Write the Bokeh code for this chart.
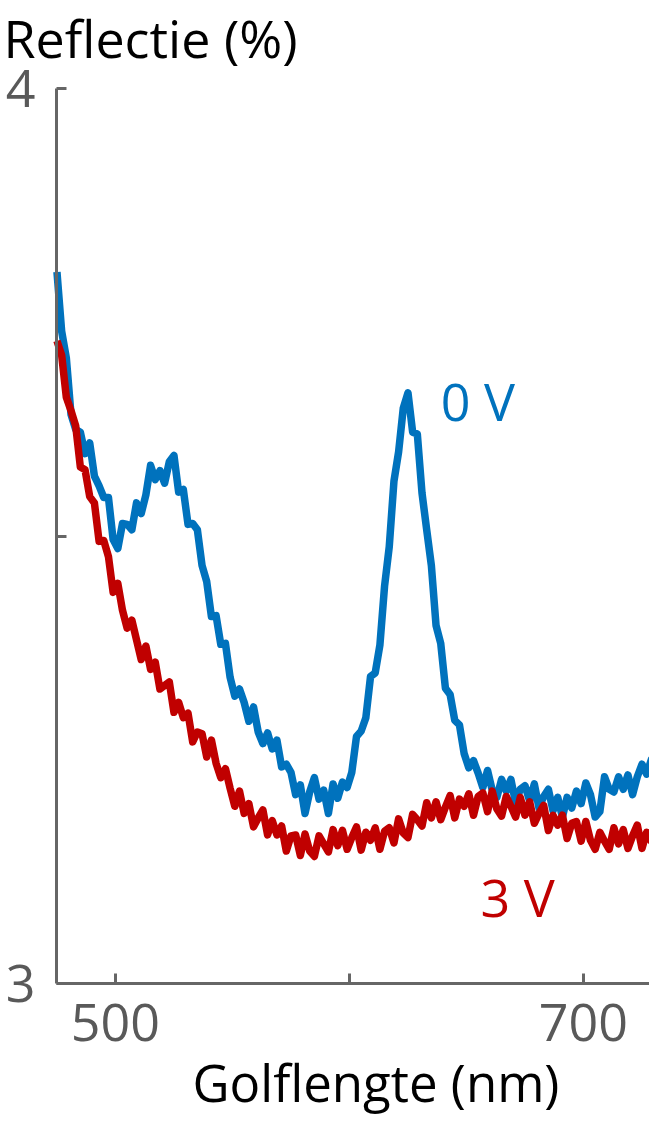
from bokeh.plotting import figure
from bokeh.models import Range1d, FixedTicker, Label
from bokeh.embed import file_html
from bokeh.resources import INLINE

# ---------------- data ----------------
wavelength = list(range(475, 732, 2))  # nm

refl_0V = [
    3.795, 3.729, 3.699, 3.636, 3.619, 3.616, 3.592, 3.604, 3.567, 3.556,
    3.543, 3.543, 3.496, 3.486, 3.514, 3.513, 3.507, 3.537, 3.525, 3.546,
    3.579, 3.563, 3.573, 3.559, 3.583, 3.590, 3.549, 3.552, 3.513, 3.514,
    3.507, 3.467, 3.449, 3.410, 3.411, 3.379, 3.380, 3.342, 3.321, 3.329,
    3.314, 3.293, 3.309, 3.281, 3.268, 3.280, 3.262, 3.272, 3.242, 3.245,
    3.236, 3.211, 3.222, 3.190, 3.214, 3.230, 3.206, 3.216, 3.190, 3.223,
    3.207, 3.225, 3.219, 3.236, 3.276, 3.282, 3.297, 3.343, 3.347, 3.378,
    3.444, 3.488, 3.561, 3.594, 3.643, 3.660, 3.616, 3.614, 3.548, 3.507,
    3.467, 3.400, 3.380, 3.330, 3.323, 3.294, 3.289, 3.257, 3.241, 3.249,
    3.235, 3.219, 3.238, 3.216, 3.208, 3.228, 3.215, 3.228, 3.202, 3.217,
    3.221, 3.204, 3.223, 3.196, 3.209, 3.217, 3.193, 3.208, 3.186, 3.208,
    3.196, 3.215, 3.201, 3.224, 3.211, 3.186, 3.192, 3.231, 3.217, 3.214,
    3.231, 3.217, 3.233, 3.211, 3.231, 3.245, 3.234, 3.250, 3.226,
]

refl_3V = [
    3.718, 3.702, 3.655, 3.640, 3.623, 3.577, 3.574, 3.544, 3.537, 3.494,
    3.495, 3.477, 3.437, 3.447, 3.417, 3.397, 3.406, 3.384, 3.362, 3.377,
    3.351, 3.359, 3.329, 3.333, 3.337, 3.303, 3.314, 3.297, 3.302, 3.270,
    3.281, 3.279, 3.253, 3.272, 3.246, 3.230, 3.240, 3.218, 3.198, 3.215,
    3.190, 3.201, 3.175, 3.185, 3.194, 3.166, 3.182, 3.166, 3.176, 3.148,
    3.165, 3.166, 3.143, 3.167, 3.148, 3.142, 3.165, 3.156, 3.147, 3.172,
    3.154, 3.171, 3.150, 3.163, 3.175, 3.149, 3.169, 3.160, 3.174, 3.150,
    3.170, 3.174, 3.157, 3.184, 3.168, 3.163, 3.189, 3.183, 3.176, 3.202,
    3.185, 3.203, 3.183, 3.197, 3.210, 3.185, 3.206, 3.198, 3.212, 3.188,
    3.209, 3.213, 3.192, 3.215, 3.195, 3.187, 3.209, 3.198, 3.186, 3.208,
    3.188, 3.203, 3.179, 3.190, 3.199, 3.171, 3.188, 3.177, 3.188, 3.162,
    3.179, 3.181, 3.159, 3.181, 3.160, 3.150, 3.169, 3.159, 3.150, 3.174,
    3.156, 3.172, 3.151, 3.165, 3.177, 3.151, 3.169, 3.159, 3.171,
]

x_ticks = [500, 600, 700]
x_tick_labels = {500: "500", 600: "", 700: "700"}
x_axis_span = (474.8, 728.2)
y_ticks = [3, 3.5, 4]
y_tick_labels = {3: "3", 3.5: "", 4: "4"}
y_axis_span = (3, 4)

series_labels = ["0 V", "3 V"]
label_pos = [(639.0, 3.651), (656.0, 3.097)]

title_text = "Reflectie (%)"
xlabel_text = "Golflengte (nm)"

BLUE = "#0072BD"
RED = "#C00000"
AXIS = "#666666"
TICKTXT = "#595959"
FONT = "Open Sans"

W, H = 649, 1117
# frame fills the canvas; axes are pinned at the data origin (474.8, 3)
PX_PER_NM = 2.34
PX_PER_UNIT = 895.0
x0 = x_axis_span[0] - 56 / PX_PER_NM
x1 = x0 + W / PX_PER_NM
y1 = y_axis_span[1] + 88 / PX_PER_UNIT
y0 = y1 - H / PX_PER_UNIT

p = figure(
    width=W, height=H,
    output_backend="svg", toolbar_location=None,
    x_range=Range1d(x0, x1), y_range=Range1d(y0, y1),
    min_border=0, min_border_left=0, min_border_right=0,
    min_border_top=0, min_border_bottom=0,
    title=None,
)
p.outline_line_color = None
p.grid.visible = False
p.background_fill_color = "white"
p.border_fill_color = "white"

p.line(wavelength, refl_0V, line_color=BLUE, line_width=7.5, line_join="round")
p.line(wavelength, refl_3V, line_color=RED, line_width=7.5, line_join="round")

for ax, ticks, labels, span, loc in (
        (p.xaxis[0], x_ticks, x_tick_labels, x_axis_span, y_axis_span[0]),
        (p.yaxis[0], y_ticks, y_tick_labels, y_axis_span, x_axis_span[0])):
    ax.ticker = FixedTicker(ticks=ticks)
    ax.major_label_overrides = labels
    ax.bounds = span
    ax.fixed_location = loc
    ax.minor_tick_line_color = None
    ax.major_tick_in = 10
    ax.major_tick_out = 0
    ax.major_tick_line_width = 3
    ax.major_tick_line_color = AXIS
    ax.axis_line_width = 3
    ax.axis_line_color = AXIS
    ax.major_label_text_font = FONT
    ax.major_label_text_font_size = "52px"
    ax.major_label_text_color = TICKTXT

p.yaxis.major_label_standoff = 21
p.xaxis.major_label_standoff = 20

# chart title (top-left) and x-axis title, kept fully inside the canvas
p.add_layout(Label(x=3, y=H - 1, x_units="screen", y_units="screen",
                   text=title_text, text_font=FONT, text_font_size="52px",
                   text_color="black", text_align="left",
                   text_baseline="top"))
p.add_layout(Label(x=192, y=1, x_units="screen", y_units="screen",
                   text=xlabel_text, text_font=FONT, text_font_size="51px",
                   text_color="black", text_align="left",
                   text_baseline="bottom"))

for (lx, ly), txt, col in zip(label_pos, series_labels, [BLUE, RED]):
    p.add_layout(Label(x=lx, y=ly, text=txt, text_color=col,
                       text_font=FONT, text_font_size="52px",
                       text_align="left", text_baseline="middle"))

open("out.html", "w").write(file_html(p, INLINE))
